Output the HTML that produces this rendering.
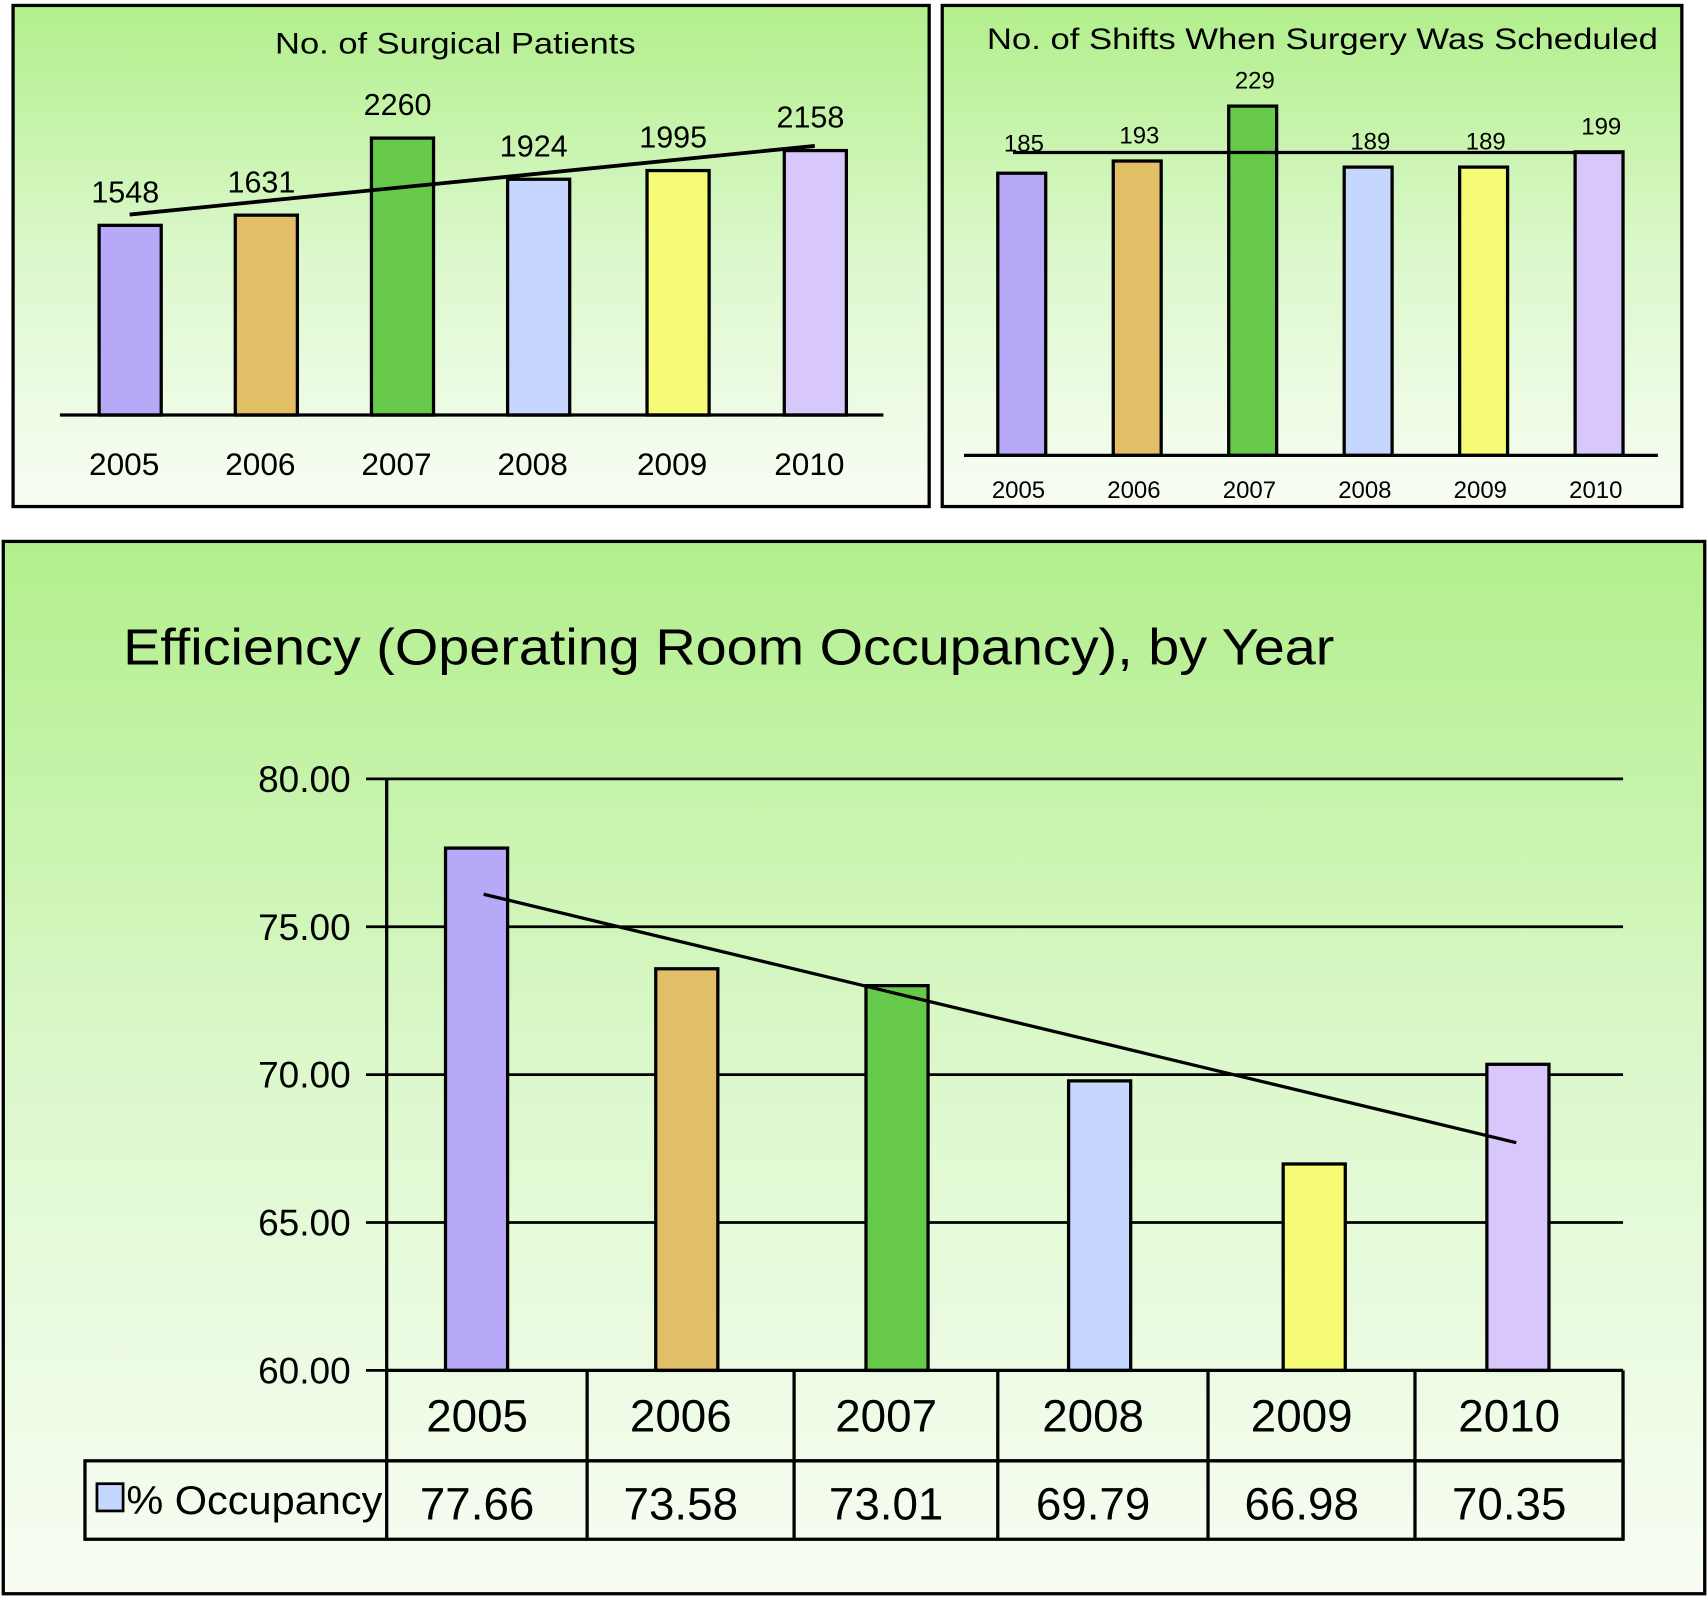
<!DOCTYPE html>
<html><head><meta charset="utf-8"><style>
html,body{margin:0;padding:0;background:#fff;}
svg{display:block;}
text{font-family:"Liberation Sans",Arial,sans-serif;fill:#000;}
</style></head><body>
<svg id="root" width="1708" height="1597" viewBox="0 0 1568 1466" preserveAspectRatio="none" xmlns="http://www.w3.org/2000/svg">
<defs>
<linearGradient id="bg" x1="0" y1="0" x2="0" y2="1">
<stop offset="0" stop-color="#b2ef8c"/><stop offset="0.5" stop-color="#dcf8cc"/><stop offset="1" stop-color="#f8fdf4"/>
</linearGradient>
</defs>
<rect x="12" y="5" width="841" height="460" fill="url(#bg)" stroke="#000" stroke-width="3"/>
<rect x="865" y="5" width="679" height="460" fill="url(#bg)" stroke="#000" stroke-width="3"/>
<rect x="3" y="497" width="1562" height="966" fill="url(#bg)" stroke="#000" stroke-width="3"/>
<text x="418" y="49" font-size="27" text-anchor="middle" textLength="331" lengthAdjust="spacingAndGlyphs">No. of Surgical Patients</text>
<text x="1214" y="45" font-size="27" text-anchor="middle" textLength="616" lengthAdjust="spacingAndGlyphs">No. of Shifts When Surgery Was Scheduled</text>
<text x="113" y="610" font-size="47" textLength="1112" lengthAdjust="spacingAndGlyphs">Efficiency (Operating Room Occupancy), by Year</text>
<g id="g1"></g><g id="g2"></g><g id="g3"></g>
</svg>
<script>
const years = ["2005","2006","2007","2008","2009","2010"];
const colors = ["#b7a8f8","#e2be66","#66c94a","#c5d6ff","#f5fb74","#d8c7fb"];
const patients = [1548,1631,2260,1924,1995,2158];
const patientsTrend = [1636,2196];
const shifts = [185,193,229,189,189,199];
const shiftsTrend = [198.6,198.6];
const occupancy = [77.66,73.58,73.01,69.79,66.98,70.35];
const occupancyTrend = [76.1,67.7];
const occTicks = [60,65,70,75,80];
const occTickLabels = ["60.00","65.00","70.00","75.00","80.00"];

const NS="http://www.w3.org/2000/svg";
function mk(parent,tag,attrs,txt){const e=document.createElementNS(NS,tag);for(const k in attrs)e.setAttribute(k,attrs[k]);if(txt!==undefined)e.textContent=txt;parent.appendChild(e);return e;}

// Chart 1
(function(){
const g=document.getElementById('g1');
const base=381, k=0.1125;
const cx=[119,244,369,494,622,748];
const y=v=>base-v*k;
years.forEach((yr,i)=>{
 const r=mk(g,'rect',{x:cx[i]-28,y:y(patients[i]),width:57,height:base-y(patients[i]),fill:colors[i],stroke:'#000','stroke-width':3});
 
 
 const t=mk(g,'text',{x:cx[i]-4,y:y(patients[i])-21,'font-size':28,'text-anchor':'middle'},String(patients[i]));
 
 
 const l=mk(g,'text',{x:cx[i]-5,y:436,'font-size':29,'text-anchor':'middle'},yr);
 
 
});
const ax=mk(g,'line',{x1:55,y1:base,x2:811,y2:base,stroke:'#000','stroke-width':3});


const tl=mk(g,'line',{x1:cx[0],y1:y(patientsTrend[0]),x2:cx[5],y2:y(patientsTrend[1]),stroke:'#000','stroke-width':3.5});


})();

// Chart 2
(function(){
const g=document.getElementById('g2');
const base=418, k=1.4;
const cx=[938,1044,1150,1256,1362,1468];
const y=v=>base-v*k;
years.forEach((yr,i)=>{
 const r=mk(g,'rect',{x:cx[i]-22,y:y(shifts[i]),width:44,height:base-y(shifts[i]),fill:colors[i],stroke:'#000','stroke-width':3});
 
 
 const t=mk(g,'text',{x:cx[i]+2,y:i===0?y(shifts[i])-20:y(shifts[i])-16,'font-size':22,'text-anchor':'middle'},String(shifts[i]));
 
 
 const l=mk(g,'text',{x:cx[i]-3,y:457,'font-size':22,'text-anchor':'middle'},yr);
 
 
});
const ax=mk(g,'line',{x1:885,y1:base,x2:1522,y2:base,stroke:'#000','stroke-width':3});


const tl=mk(g,'line',{x1:930,y1:y(shiftsTrend[0]),x2:1488,y2:y(shiftsTrend[1]),stroke:'#000','stroke-width':3});


})();

// Chart 3
(function(){
const g=document.getElementById('g3');
const y0=1258, y1=715, vmin=60, vmax=80;
const y=v=>y0-(v-vmin)/(vmax-vmin)*(y0-y1);
const cols=[355,539,729,916,1109,1299,1490];
const cx=[437,630,823,1009,1206,1393];
occTicks.forEach((t,i)=>{
 const gl=mk(g,'line',{x1:336,y1:y(t),x2:1490,y2:y(t),stroke:'#000','stroke-width':2.5});
 
 
 const tl=mk(g,'text',{x:322,y:y(t)+12,'font-size':34,'text-anchor':'end'},occTickLabels[i]);
 
 
});
const yax=mk(g,'line',{x1:355,y1:y1,x2:355,y2:1413,stroke:'#000','stroke-width':3});


years.forEach((yr,i)=>{
 const r=mk(g,'rect',{x:cx[i]-28,y:y(occupancy[i]),width:57,height:y0-y(occupancy[i]),fill:colors[i],stroke:'#000','stroke-width':3});
 
 
});
const tr=mk(g,'line',{x1:444,y1:y(occupancyTrend[0]),x2:1392,y2:y(occupancyTrend[1]),stroke:'#000','stroke-width':3});


const tbl=mk(g,'g',{});


mk(tbl,'line',{x1:355,y1:1341,x2:1490,y2:1341,stroke:'#000','stroke-width':3});
mk(tbl,'rect',{x:78,y:1341,width:1412,height:72,fill:'none',stroke:'#000','stroke-width':3});
mk(tbl,'line',{x1:1490,y1:y0,x2:1490,y2:1413,stroke:'#000','stroke-width':3});
mk(tbl,'line',{x1:355,y1:y0,x2:1490,y2:y0,stroke:'#000','stroke-width':3});
for(let i=1;i<cols.length-1;i++) mk(tbl,'line',{x1:cols[i],y1:y0,x2:cols[i],y2:1413,stroke:'#000','stroke-width':3});
years.forEach((yr,i)=>{
 const c=(cols[i]+cols[i+1])/2;
 const h=mk(tbl,'text',{x:c-9,y:1314,'font-size':42,'text-anchor':'middle'},yr);
 
 
 const v=mk(tbl,'text',{x:c-9,y:1395,'font-size':42,'text-anchor':'middle'},occupancy[i].toFixed(2));
 
 
});
const sw=mk(tbl,'rect',{x:89,y:1362,width:24,height:25,fill:'#c5d6ff',stroke:'#000','stroke-width':2.5});


const lt=mk(tbl,'text',{x:116,y:1390,'font-size':37,textLength:235,lengthAdjust:'spacingAndGlyphs'},'% Occupancy');


})();
</script>
</body></html>
